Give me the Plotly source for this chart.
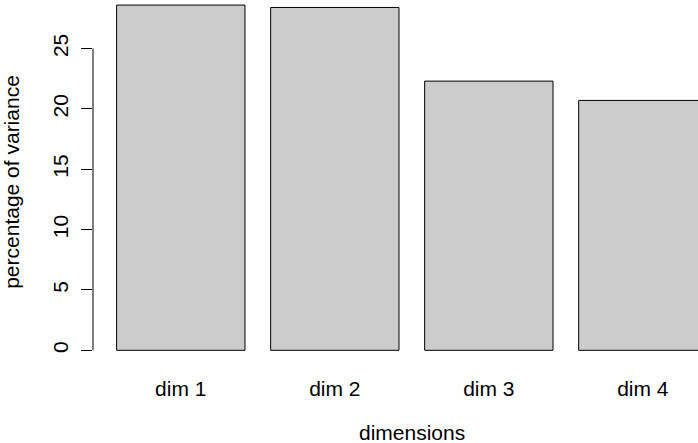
import plotly.graph_objects as go

# Share of variance explained by each dimension
dimensions = ["dim 1", "dim 2", "dim 3", "dim 4"]
variance_pct = [28.6, 28.4, 22.3, 20.7]
y_ticks = [0, 5, 10, 15, 20, 25]

FONT = "Liberation Sans, Arial, Helvetica, sans-serif"
TEXT = dict(family=FONT, size=21, color="black")

fig = go.Figure(
    go.Bar(
        x=dimensions,
        y=variance_pct,
        marker=dict(color="#CCCCCC", line=dict(color="black", width=1)),
        width=1 / 1.2,
        showlegend=False,
    )
)

# Axis line only spans the labelled tick range
fig.add_shape(
    type="line",
    xref="paper", yref="y",
    x0=0, x1=0, y0=y_ticks[0], y1=y_ticks[-1],
    line=dict(color="black", width=1),
)

# x-axis title, centred on the full plotting region (which runs past the right edge)
fig.add_annotation(
    text="dimensions",
    xref="paper", yref="paper",
    x=0.527, y=-0.188,
    xanchor="center", yanchor="middle",
    showarrow=False,
    font=TEXT,
)

fig.update_layout(
    width=698,
    height=443,
    margin=dict(l=93, r=0, t=0, b=79),
    paper_bgcolor="white",
    plot_bgcolor="white",
    font=TEXT,
    xaxis=dict(
        type="category",
        range=[-0.570, 3.358],
        showgrid=False,
        showline=False,
        zeroline=False,
        ticks="",
        tickfont=TEXT,
        ticklabelstandoff=10,
        automargin=False,
    ),
    yaxis=dict(
        range=[-1.135, 29.02],
        tickvals=y_ticks,
        ticktext=[str(v) for v in y_ticks],
        tickangle=-90,
        ticks="outside",
        ticklen=11,
        tickcolor="black",
        tickwidth=1,
        tickfont=TEXT,
        showgrid=False,
        showline=False,
        zeroline=False,
        ticklabelstandoff=5,
        title=dict(text="percentage of variance", font=TEXT, standoff=23),
        automargin=False,
    ),
)

fig.write_html("out.html")
